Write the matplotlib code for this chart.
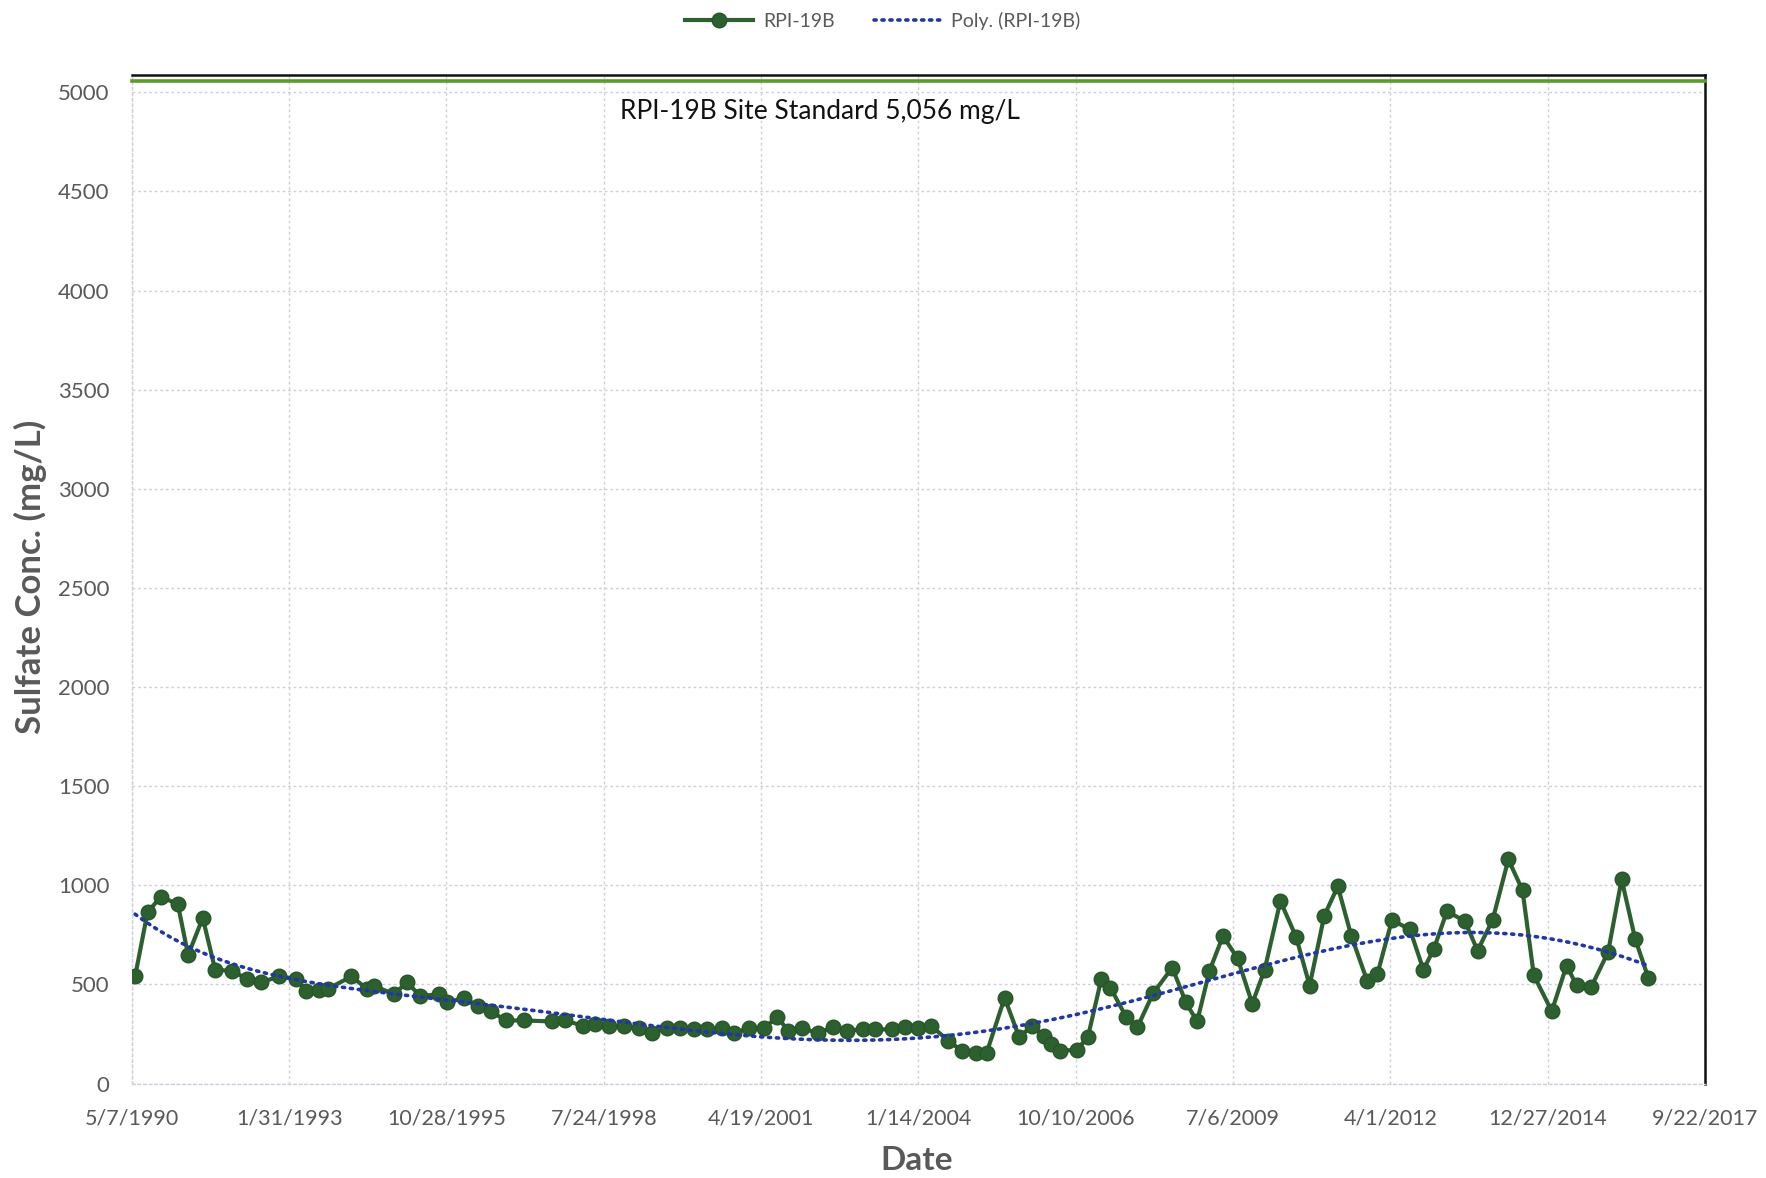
import numpy as np
import pandas as pd
import matplotlib
matplotlib.use("Agg")
import matplotlib.pyplot as plt
import matplotlib.dates as mdates
from matplotlib.lines import Line2D

# ---------------- data ----------------
start_date = "1990-05-07"
# sample dates as days after 5/7/1990
sample_days = [21, 100, 186, 293, 358, 451, 530, 637, 730, 823, 938, 1045, 1110, 1188,
               1245, 1396, 1496, 1539, 1668, 1747, 1833, 1954, 2004, 2112, 2198, 2283,
               2377, 2491, 2670, 2756, 2870, 2942, 3035, 3128, 3221, 3307, 3400, 3486,
               3572, 3658, 3751, 3830, 3923, 4016, 4102, 4173, 4259, 4359, 4460, 4546,
               4646, 4724, 4832, 4918, 4996, 5082, 5190, 5276, 5369, 5433, 5548, 5641,
               5720, 5798, 5841, 5898, 6006, 6077, 6163, 6221, 6321, 6392, 6492, 6614,
               6700, 6772, 6850, 6936, 7029, 7122, 7201, 7301, 7401, 7487, 7580, 7666,
               7752, 7853, 7917, 8010, 8124, 8210, 8275, 8360, 8475, 8554, 8650, 8750,
               8840, 8912, 9026, 9120, 9184, 9277, 9384, 9470, 9556, 9640]
sulfate = [540, 864, 943, 903, 648, 835, 574, 568, 528, 511, 540, 528, 466, 472,
           477, 540, 477, 494, 449, 511, 443, 449, 409, 432, 392, 364,
           318, 318, 313, 318, 290, 301, 290, 290, 278, 256, 278, 278,
           273, 273, 278, 256, 278, 278, 335, 267, 278, 256, 284, 267,
           273, 273, 273, 284, 278, 290, 216, 165, 153, 153, 432, 233,
           290, 239, 199, 165, 170, 233, 528, 483, 335, 284, 455, 585,
           409, 313, 568, 744, 631, 403, 574, 920, 739, 494, 847, 994,
           744, 517, 551, 824, 778, 574, 676, 869, 818, 670, 825, 1130,
           975, 545, 365, 595, 495, 487, 663, 1030, 730, 532]
site_standard = 5056
standard_label = "RPI-19B Site Standard 5,056 mg/L"
series_name = "RPI-19B"
trend_name = "Poly. (RPI-19B)"
trend_order = 6
y_ticks = list(range(0, 5001, 500))
tick_step_days = 1000
n_ticks = 11

# ---------------- derived ----------------
t0 = pd.Timestamp(start_date)
dates = [t0 + pd.Timedelta(days=d) for d in sample_days]
x = mdates.date2num(dates)
sd = np.array(sample_days, float)
sv = np.array(sulfate, float)
coef = np.polyfit(sd / 1000, sv, trend_order)
trend_d = np.linspace(sample_days[0], sample_days[-1], 300)
trend_x = mdates.date2num([t0 + pd.Timedelta(days=float(d)) for d in trend_d])
trend_y = np.polyval(coef, trend_d / 1000)
tick_dates = [t0 + pd.Timedelta(days=tick_step_days * i) for i in range(n_ticks)]
tick_x = mdates.date2num(tick_dates)
tick_labels = [f"{d.month}/{d.day}/{d.year}" for d in tick_dates]

# ---------------- plot ----------------
plt.rcParams['font.family'] = ['Lato', 'DejaVu Sans']
W, H = 1766, 1178
fig = plt.figure(figsize=(W / 100, H / 100), dpi=100)
ax = fig.add_axes([131.8 / W, 1 - 1083.5 / H, (1705 - 131.8) / W, (1083.5 - 67 * 1.1263) / H])

green = '#2d602f'
blue = '#2137a8'
ax.plot(x, sulfate, '-o', color=green, lw=3.0, ms=10.5, mfc=green, mec='#285529',
        mew=1.0, zorder=4, label=series_name)
ax.plot(trend_x, trend_y, linestyle=(0, (0.6, 1.6)), dash_capstyle='round',
        color=blue, lw=2.6, zorder=5, label=trend_name)
ax.axhline(site_standard, color='#5c9a2e', lw=2.6, zorder=3, clip_on=False)
ax.text(0.4375, 0.964, standard_label, transform=ax.transAxes, ha='center', va='center',
        fontsize=19, color='#111111')

ax.set_xlim(tick_x[0], tick_x[-1])
ax.set_ylim(0, 5085)
ax.set_xticks(tick_x)
ax.set_xticklabels(tick_labels)
ax.set_yticks(y_ticks)
ax.tick_params(axis='both', length=0, labelsize=16, colors='#595959')
ax.tick_params(axis='x', pad=18, labelsize=15.5)
ax.tick_params(axis='y', pad=16)
ax.grid(True, color='#cfd0de', linestyle=(0, (2, 2)), lw=1.0, zorder=0)
ax.set_axisbelow(True)
for s in ['left', 'bottom']:
    ax.spines[s].set_color('#cfd0de')
    ax.spines[s].set_linestyle((0, (2, 2)))
    ax.spines[s].set_linewidth(1.0)
for s in ['top', 'right']:
    ax.spines[s].set_color('#111111')
    ax.spines[s].set_linewidth(1.8)

fig.text(30 / W, 1 - 577 / H, "Sulfate Conc. (mg/L)", rotation=90, ha='center', va='center',
         fontsize=25, fontweight='bold', color='#595959')
fig.text(917 / W, 1 - 1160 / H, "Date", ha='center', va='center',
         fontsize=24, fontweight='bold', color='#595959')

handles = [Line2D([], [], color=green, lw=3.0, marker='o', ms=10.5, mfc=green, mec='#285529'),
           Line2D([], [], color=blue, lw=2.6, linestyle=(0, (0.6, 1.6)), dash_capstyle='round')]
fig.legend(handles, [series_name, trend_name], loc='center', bbox_to_anchor=(0.5, 1 - 21 / H),
           ncol=2, frameon=False, fontsize=14, labelcolor='#595959', handlelength=3.5,
           columnspacing=2.0, handletextpad=0.5)

fig.savefig('out.png', dpi=100, facecolor='white')
